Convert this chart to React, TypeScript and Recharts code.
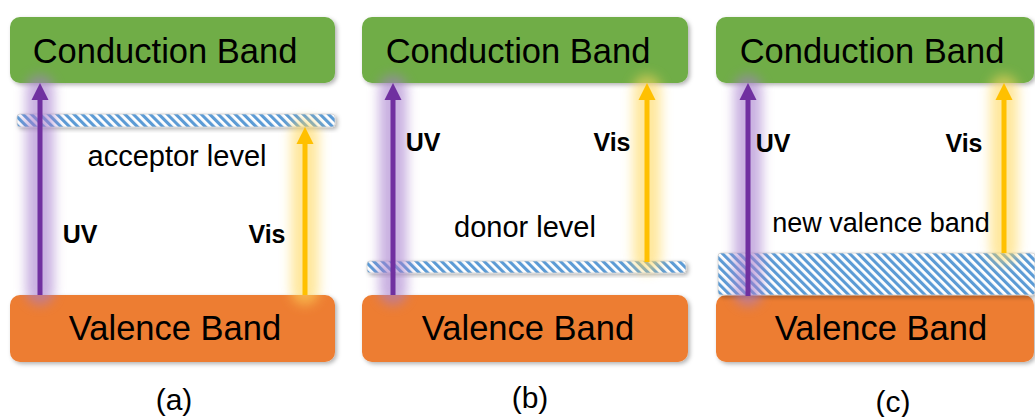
import React from 'react';
import { ComposedChart, XAxis, YAxis, ReferenceArea, ReferenceLine, ReferenceDot, Scatter } from 'recharts';

// Panel captions
const panels = ['(a)', '(b)', '(c)'];
const captionX = [174, 530, 893];
const captionY = [410, 408, 412];

// Band edges (energy axis, drawn top-down)
const bandLeft = [10, 362, 716];
const bandRight = [335, 688, 1034];
const conductionBand = [17, 83]; // top, bottom
const valenceBand = [295, 362]; // top, bottom
const conductionLabelX = [165, 518, 872];
const conductionLabelY = 63;
const valenceLabelX = [175, 528, 881];
const valenceLabelY = 340;

// Intermediate levels
const levelNames = ['acceptor level', 'donor level', 'new valence band'];
const levelLeft = [17, 367, 718];
const levelRight = [335, 686, 1035];
const levelTop = [114, 261, 253];
const levelBottom = [127, 273, 295];
const levelLabelX = [177, 525, 881];
const levelLabelY = [166, 237, 232];
const levelFontSize = [29, 29, 27];

// Excitations
const uvX = [40, 393, 748];
const uvFrom = [295, 295, 296];
const uvTo = [83, 83, 83];
const visX = [305, 647, 1004];
const visFrom = [295, 262, 253];
const visTo = [127, 83, 83];
const uvLabelX = [80, 423, 773];
const uvLabelY = [243, 151, 152];
const visLabelX = [267, 612, 964];
const visLabelY = [243, 151, 152];

const FONT = '"Liberation Sans", Arial, Helvetica, sans-serif';
const GREEN = '#70ad47';
const ORANGE = '#ed7d31';
const PURPLE = '#7030a0';
const YELLOW = '#ffc000';

const captionData = panels.map((p, i) => ({ x: captionX[i], y: captionY[i], label: p }));

const boxShape = (fill: string) => (p: any) => (
  <rect x={p.x} y={p.y} width={p.width} height={p.height} rx={10} ry={10} fill={fill} filter="url(#shadow)" />
);

const hatchShape = (p: any) => (
  <rect x={p.x} y={p.y} width={p.width} height={p.height} rx={3} ry={3} fill="url(#hatch)" stroke="#d0d0d0" strokeWidth={0.8} filter="url(#shadow)" />
);

const arrowShape = (color: string, glow: string) => (p: any) => {
  const x = p.x1;
  const yStart = Math.max(p.y1, p.y2);
  const yTip = Math.min(p.y1, p.y2);
  const head = 17;
  return (
    <g>
      <rect x={x - 14} y={yTip - 8} width={28} height={yStart - yTip + 18} rx={14} ry={14} fill={glow} opacity={0.6} filter="url(#glow)" />
      <line x1={x} y1={yStart} x2={x} y2={yTip + head - 1} stroke={color} strokeWidth={5} />
      <polygon points={`${x},${yTip} ${x - 8.5},${yTip + head} ${x + 8.5},${yTip + head}`} fill={color} />
    </g>
  );
};

const textShape = (value: string, size: number, weight: string | number = 'normal') => (p: any) => (
  <text x={p.cx} y={p.cy} textAnchor="middle" fontFamily={FONT} fontSize={size} fontWeight={weight} fill="#000">
    {value}
  </text>
);

export default function App() {
  return (
    <div style={{ position: 'absolute', left: 0, top: 0, width: 1035, height: 417, background: '#fff' }}>
      <ComposedChart width={1035} height={417} margin={{ top: 0, right: 0, bottom: 0, left: 0 }} data={captionData}>
        <defs>
          <pattern id="hatch" patternUnits="userSpaceOnUse" width={6} height={6} patternTransform="rotate(-45)">
            <rect x={0} y={0} width={6} height={6} fill="#ffffff" />
            <rect x={0} y={0} width={3.1} height={6} fill="#5b9bd5" />
          </pattern>
          <filter id="shadow" x="-10%" y="-30%" width="120%" height="170%">
            <feDropShadow dx={2} dy={2} stdDeviation={2} floodColor="#000" floodOpacity={0.3} />
          </filter>
          <filter id="glow" x="-150%" y="-20%" width="400%" height="140%">
            <feGaussianBlur stdDeviation={6} />
          </filter>
        </defs>
        <XAxis type="number" dataKey="x" domain={[0, 1035]} allowDataOverflow hide />
        <YAxis type="number" dataKey="y" domain={[0, 417]} allowDataOverflow reversed hide />

        {panels.map((_, i) => (
          <ReferenceArea key={`cb${i}`} x1={bandLeft[i]} x2={bandRight[i]} y1={conductionBand[0]} y2={conductionBand[1]} shape={boxShape(GREEN)} />
        ))}
        {panels.map((_, i) => (
          <ReferenceArea key={`vb${i}`} x1={bandLeft[i]} x2={bandRight[i]} y1={valenceBand[0]} y2={valenceBand[1]} shape={boxShape(ORANGE)} />
        ))}
        {panels.map((_, i) => (
          <ReferenceArea key={`lv${i}`} x1={levelLeft[i]} x2={levelRight[i]} y1={levelTop[i]} y2={levelBottom[i]} shape={hatchShape} />
        ))}

        {panels.map((_, i) => (
          <ReferenceLine key={`uv${i}`} segment={[{ x: uvX[i], y: uvFrom[i] }, { x: uvX[i], y: uvTo[i] }]} shape={arrowShape(PURPLE, '#a57ccc')} />
        ))}
        {panels.map((_, i) => (
          <ReferenceLine key={`vis${i}`} segment={[{ x: visX[i], y: visFrom[i] }, { x: visX[i], y: visTo[i] }]} shape={arrowShape(YELLOW, '#ffd85c')} />
        ))}

        {panels.map((_, i) => (
          <ReferenceDot key={`cbt${i}`} x={conductionLabelX[i]} y={conductionLabelY} r={0} shape={textShape('Conduction Band', 34.5)} />
        ))}
        {panels.map((_, i) => (
          <ReferenceDot key={`vbt${i}`} x={valenceLabelX[i]} y={valenceLabelY} r={0} shape={textShape('Valence Band', 34.5)} />
        ))}
        {panels.map((_, i) => (
          <ReferenceDot key={`lvt${i}`} x={levelLabelX[i]} y={levelLabelY[i]} r={0} shape={textShape(levelNames[i], levelFontSize[i])} />
        ))}
        {panels.map((_, i) => (
          <ReferenceDot key={`uvt${i}`} x={uvLabelX[i]} y={uvLabelY[i]} r={0} shape={textShape('UV', 25, 'bold')} />
        ))}
        {panels.map((_, i) => (
          <ReferenceDot key={`vist${i}`} x={visLabelX[i]} y={visLabelY[i]} r={0} shape={textShape('Vis', 25, 'bold')} />
        ))}

        <Scatter
          dataKey="y"
          isAnimationActive={false}
          shape={(p: any) => (
            <text x={p.cx} y={p.cy} textAnchor="middle" fontFamily={FONT} fontSize={30} fill="#000">
              {p.payload.label}
            </text>
          )}
        />
      </ComposedChart>
    </div>
  );
}
